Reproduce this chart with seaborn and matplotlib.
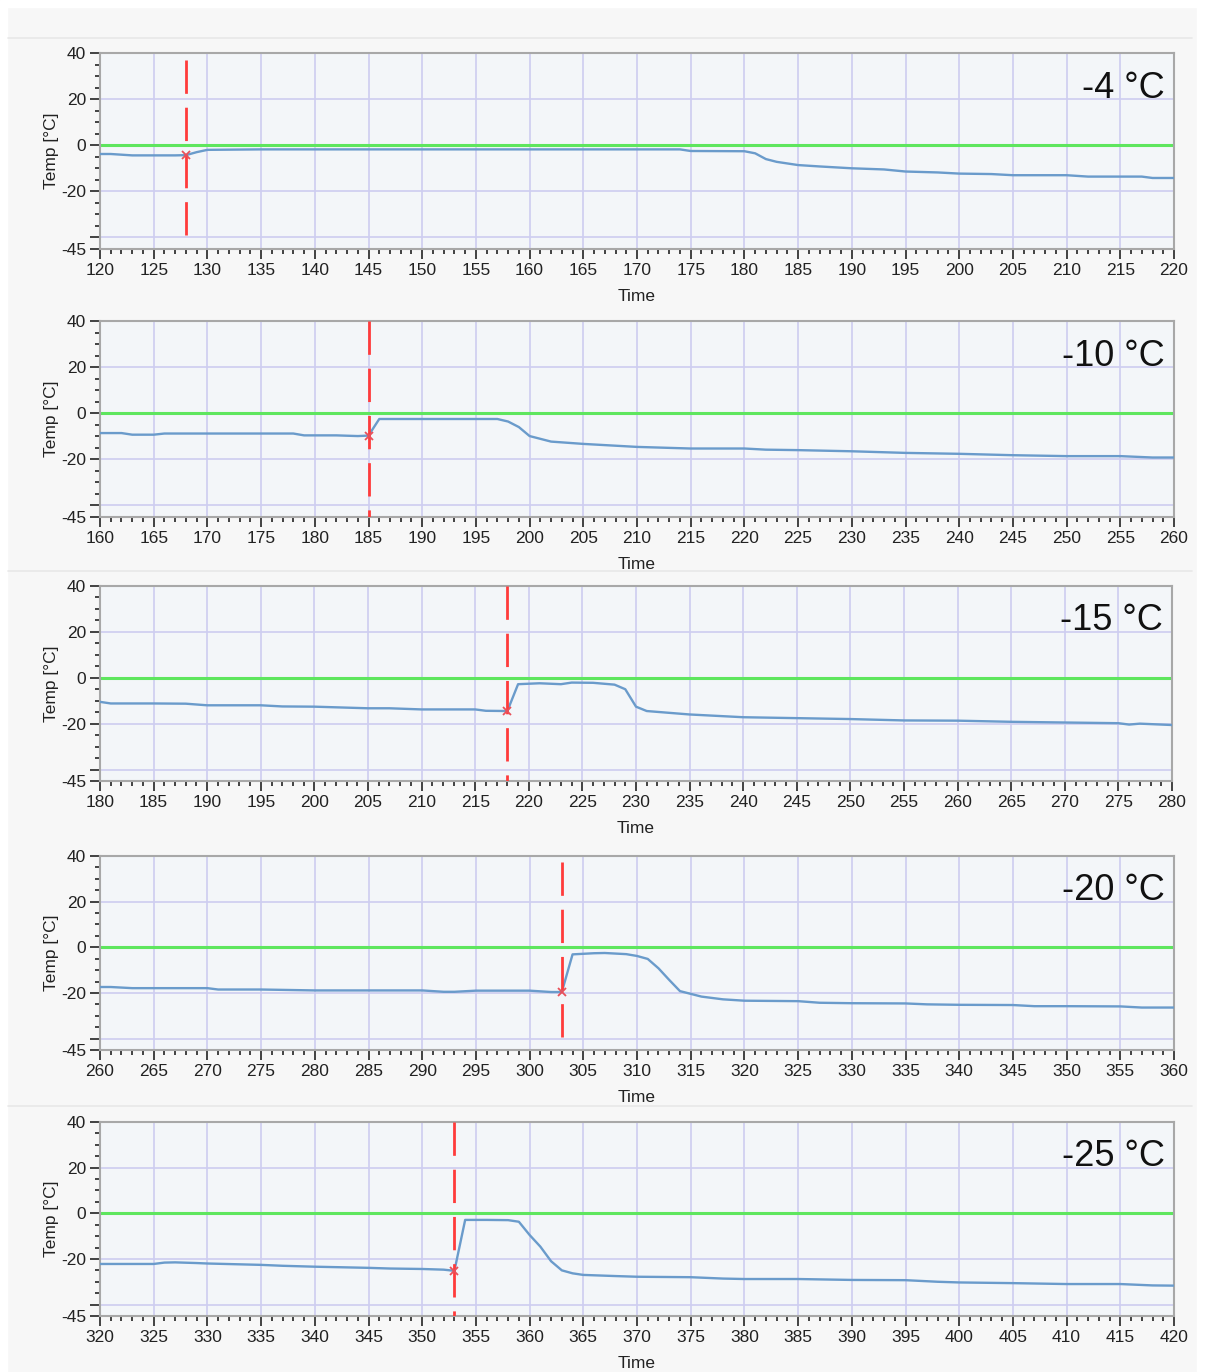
import numpy as np
import pandas as pd
import matplotlib
matplotlib.use("Agg")
import matplotlib.pyplot as plt
import seaborn as sns
from matplotlib.ticker import MultipleLocator, FixedLocator, FixedFormatter
from matplotlib.patches import Rectangle
from matplotlib.lines import Line2D

# ---- data -------------------------------------------------------------
labels = ["-4 °C", "-10 °C", "-15 °C", "-20 °C", "-25 °C"]
x_starts = [120, 160, 180, 260, 320]
events = [128, 185, 218, 303, 353]

t1 = [120, 121, 122, 123, 125, 127, 128, 129, 130, 135, 140, 150, 160, 170, 174,
      175, 180, 181, 182, 183, 185, 187, 190, 193, 195, 198, 200, 203, 205, 210,
      212, 215, 217, 218, 220]
v1 = [-3.8, -3.8, -4.1, -4.4, -4.4, -4.4, -4.3, -3.0, -2.0, -1.8, -1.8, -1.8, -1.8,
      -1.8, -1.8, -2.5, -2.6, -3.5, -6.0, -7.2, -8.6, -9.2, -10.0, -10.5, -11.4,
      -11.8, -12.3, -12.5, -13.0, -13.0, -13.6, -13.6, -13.6, -14.2, -14.2]

t2 = [160, 162, 163, 165, 166, 170, 175, 178, 179, 182, 184, 185, 186, 190, 195,
      197, 198, 199, 200, 202, 205, 210, 215, 220, 222, 225, 230, 235, 240, 245,
      250, 255, 258, 260]
v2 = [-8.6, -8.6, -9.3, -9.3, -8.8, -8.8, -8.8, -8.8, -9.6, -9.6, -9.9, -9.7,
      -2.5, -2.5, -2.5, -2.5, -3.6, -6.0, -9.9, -12.3, -13.3, -14.6, -15.3, -15.3,
      -15.8, -16.0, -16.5, -17.2, -17.6, -18.2, -18.6, -18.6, -19.2, -19.2]

t3 = [180, 181, 185, 188, 190, 195, 197, 200, 205, 207, 210, 215, 216, 218, 219,
      221, 223, 224, 226, 228, 229, 230, 231, 235, 240, 245, 250, 255, 260, 265,
      270, 275, 276, 277, 280]
v3 = [-10.5, -11.2, -11.2, -11.3, -12.0, -12.0, -12.5, -12.6, -13.3, -13.3, -13.8,
      -13.8, -14.4, -14.5, -2.8, -2.4, -2.8, -2.1, -2.2, -3.0, -5.0, -12.6, -14.5,
      -16.0, -17.2, -17.6, -18.0, -18.6, -18.7, -19.2, -19.5, -19.8, -20.4, -20.0,
      -20.6]

t4 = [260, 261, 263, 265, 270, 271, 275, 280, 285, 290, 292, 293, 295, 300, 302,
      303, 304, 306, 307, 309, 310, 311, 312, 313, 314, 316, 318, 320, 325, 327,
      330, 335, 337, 340, 345, 347, 350, 355, 357, 360]
v4 = [-17.4, -17.4, -17.9, -17.9, -17.9, -18.5, -18.5, -18.9, -18.9, -18.9, -19.5,
      -19.5, -19.0, -19.0, -19.6, -19.6, -3.1, -2.6, -2.5, -3.0, -3.8, -5.1, -9.2,
      -14.3, -19.2, -21.6, -22.8, -23.4, -23.6, -24.3, -24.5, -24.6, -25.0, -25.2,
      -25.3, -25.8, -25.8, -25.9, -26.4, -26.4]

t5 = [320, 325, 326, 327, 329, 330, 335, 337, 340, 345, 347, 350, 352, 353, 354,
      356, 358, 359, 360, 361, 362, 363, 364, 365, 368, 370, 375, 378, 380, 385,
      390, 395, 398, 400, 405, 410, 415, 418, 420]
v5 = [-22.2, -22.2, -21.6, -21.5, -21.8, -22.0, -22.6, -23.0, -23.4, -23.9, -24.2,
      -24.4, -24.7, -25.2, -2.9, -2.9, -3.0, -3.7, -9.5, -14.6, -21.0, -25.0, -26.3,
      -27.0, -27.5, -27.8, -28.0, -28.6, -28.8, -28.8, -29.2, -29.3, -30.0, -30.3,
      -30.6, -31.0, -31.0, -31.6, -31.7]

series = [(t1, v1), (t2, v2), (t3, v3), (t4, v4), (t5, v5)]

y_ticks = [-45, -40, -20, 0, 20, 40]
y_tick_labels = ["-45", "", "-20", "0", "20", "40"]

# ---- style ------------------------------------------------------------
sns.set_theme(style="white")
plt.rcParams["font.family"] = ["Liberation Sans Narrow", "Liberation Sans", "DejaVu Sans"]

W, H = 1210, 1372
fig = plt.figure(figsize=(W / 100, H / 100), dpi=100, facecolor="#f7f7f7")

# white borders and faint separators of the window frames
for (x0, y0, w, h) in [(0, 0, W, 7), (0, 0, 7, H), (1197, 0, 13, H)]:
    fig.add_artist(Rectangle((x0 / W, 1 - (y0 + h) / H), w / W, h / H,
                             transform=fig.transFigure, color="white", zorder=0))
for ys in [38, 571, 1106]:
    fig.add_artist(Line2D([8 / W, 1192 / W], [1 - ys / H] * 2,
                          transform=fig.transFigure, color="#e8e8e8", lw=1.2, zorder=1))

boxes = [(100, 53, 1174, 249), (100, 321, 1174, 517), (100, 586, 1172, 781),
         (100, 856, 1174, 1050), (100, 1122, 1174, 1316)]
cursor_top = [37.0, 40.0, 40.0, 37.4, 40.0]

line_color = "#6a9bcb"
grid_color = "#cdcdf0"
tick_color = "#333333"
fs = 12.5

for (l, t, r, b), (tt, vv), x0, te, lab, ctop in zip(boxes, series, x_starts,
                                                      events, labels, cursor_top):
    ax = fig.add_axes([l / W, 1 - b / H, (r - l) / W, (b - t) / H])
    ax.set_facecolor("#f3f6f9")
    df = pd.DataFrame({"Time": tt, "Temp": vv})

    ax.axhline(0, color="#5ee65e", lw=2.2, zorder=2)
    sns.lineplot(data=df, x="Time", y="Temp", ax=ax, color=line_color,
                 lw=1.7, zorder=3)

    # cursor drawn top-down so the dash pattern begins at its upper end
    ax.plot([te, te], [ctop, -45], color="#ff3b3b", lw=2, dashes=(12, 5),
            zorder=4, clip_on=True)
    ve = np.interp(te, tt, vv)
    ax.plot([te], [ve], marker="x", color="#e8505a", ms=6, mew=1.3,
            ls="none", zorder=5)

    ax.set_xlim(x0, x0 + 100)
    ax.set_ylim(-45, 40)
    ax.xaxis.set_major_locator(MultipleLocator(5))
    ax.xaxis.set_minor_locator(MultipleLocator(1))
    ax.yaxis.set_major_locator(FixedLocator(y_ticks))
    ax.yaxis.set_major_formatter(FixedFormatter(y_tick_labels))
    ax.yaxis.set_minor_locator(MultipleLocator(5))

    ax.grid(True, which="major", color=grid_color, lw=1.2, zorder=1)
    ax.set_axisbelow(True)

    ax.tick_params(which="major", direction="out", length=7, width=1.3,
                   color=tick_color, labelsize=fs, labelcolor="#222222")
    ax.tick_params(axis="x", which="major", pad=3)
    ax.tick_params(axis="y", which="major", pad=3)
    ax.tick_params(which="minor", direction="out", length=3.5, width=1.3,
                   color=tick_color)
    ax.tick_params(bottom=True, left=True, which="both")

    for sp in ax.spines.values():
        sp.set_color("#a8a8a8")
        sp.set_linewidth(1.5)

    ax.set_xlabel("Time", fontsize=fs, color="#222222", labelpad=8)
    ax.set_ylabel("Temp [°C]", fontsize=fs, color="#222222", labelpad=1.5)

    ax.text(0.9916, 0.772, lab, transform=ax.transAxes, ha="right",
            va="baseline", fontsize=26, color="#111111",
            family=["Liberation Sans", "DejaVu Sans"], zorder=6)

fig.savefig("out.png", dpi=100, facecolor=fig.get_facecolor())
